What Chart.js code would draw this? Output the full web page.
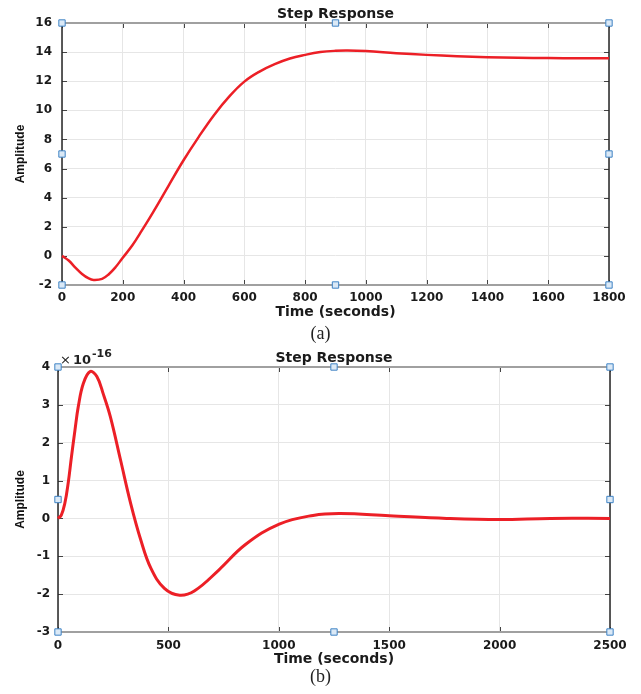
<!DOCTYPE html>
<html>
<head>
<meta charset="utf-8">
<script src="https://cdn.jsdelivr.net/npm/chart.js@4"></script>
<style>
body { margin: 0; background: #fff; }
#wrap { position: relative; width: 641px; height: 694px; }
canvas { position: absolute; left: 0; }
.cap { position: absolute; left: 0; width: 641px; text-align: center; font-family: 'Liberation Serif', 'DejaVu Serif', serif; font-size: 18px; color: #222; }
</style>
</head>
<body>
<div id="wrap">
  <canvas id="chartA" width="641" height="325" style="top:0"></canvas>
  <div class="cap" style="top:323px">(a)</div>
  <canvas id="chartB" width="641" height="328" style="top:340px"></canvas>
  <div class="cap" style="top:666px">(b)</div>
</div>
<script>
// (a) step response
const timeA = [0, 22, 44, 66, 88, 104, 132, 154, 176, 198, 231, 263, 300, 350, 400, 450, 500, 550, 600, 650, 700, 750, 800, 850, 900, 940, 1000, 1100, 1200, 1300, 1400, 1500, 1600, 1700, 1800];
const ampA = [0, -0.32, -0.8, -1.24, -1.55, -1.65, -1.58, -1.26, -0.78, -0.18, 0.71, 1.75, 3.01, 4.8, 6.57, 8.18, 9.67, 10.94, 11.97, 12.66, 13.17, 13.56, 13.81, 14.0, 14.09, 14.11, 14.07, 13.93, 13.81, 13.72, 13.65, 13.61, 13.59, 13.58, 13.58];
const xTicksA = [0, 200, 400, 600, 800, 1000, 1200, 1400, 1600, 1800];
const yTicksA = [-2, 0, 2, 4, 6, 8, 10, 12, 14, 16];
// selection handles around the axes
const handleXA = [0, 900, 1800, 0, 1800, 0, 900, 1800];
const handleYA = [16, 16, 16, 7, 7, -2, -2, -2];

// (b) step response, amplitude in units of 1e-16
const timeB = [0, 15, 31, 46, 61, 77, 92, 115, 145, 176, 206, 237, 283, 329, 375, 421, 482, 551, 619, 727, 849, 1002, 1155, 1278, 1500, 1760, 2000, 2230, 2500];
const ampB = [0, 0.09, 0.40, 0.93, 1.63, 2.34, 2.96, 3.57, 3.88, 3.75, 3.27, 2.69, 1.55, 0.40, -0.57, -1.32, -1.85, -2.03, -1.91, -1.37, -0.69, -0.15, 0.08, 0.13, 0.07, 0, -0.03, 0, 0];
const xTicksB = [0, 500, 1000, 1500, 2000, 2500];
const yTicksB = [-3, -2, -1, 0, 1, 2, 3, 4];
const handleXB = [0, 1250, 2500, 0, 2500, 0, 1250, 2500];
const handleYB = [4, 4, 4, 0.5, 0.5, -3, -3, -3];

const tickFont = { family: 'DejaVu Sans', size: 12, weight: 'bold' };

// matlab style box: inward ticks, grey top/bottom, dark sides
const boxPlugin = {
  id: 'box',
  beforeDatasetsDraw(chart) {
    const { ctx, chartArea: a, scales: { x, y } } = chart;
    ctx.save();
    ctx.strokeStyle = '#444';
    ctx.lineWidth = 1;
    ctx.beginPath();
    x.ticks.forEach(t => {
      const px = Math.round(x.getPixelForValue(t.value)) + 0.5;
      ctx.moveTo(px, a.top); ctx.lineTo(px, a.top + 5);
      ctx.moveTo(px, a.bottom); ctx.lineTo(px, a.bottom - 5);
    });
    y.ticks.forEach(t => {
      const py = Math.round(y.getPixelForValue(t.value)) + 0.5;
      ctx.moveTo(a.left, py); ctx.lineTo(a.left + 5, py);
      ctx.moveTo(a.right, py); ctx.lineTo(a.right - 5, py);
    });
    ctx.stroke();
    ctx.strokeStyle = '#a0a0a0';
    ctx.lineWidth = 2;
    ctx.beginPath();
    ctx.moveTo(a.left, a.top); ctx.lineTo(a.right, a.top);
    ctx.moveTo(a.left, a.bottom); ctx.lineTo(a.right, a.bottom);
    ctx.stroke();
    ctx.strokeStyle = '#262626';
    ctx.lineWidth = 1.5;
    ctx.beginPath();
    ctx.moveTo(a.left, a.top); ctx.lineTo(a.left, a.bottom);
    ctx.moveTo(a.right, a.top); ctx.lineTo(a.right, a.bottom);
    ctx.stroke();
    ctx.restore();
  }
};

const exponentPlugin = {
  id: 'exponent',
  afterDraw(chart) {
    const { ctx, chartArea: a } = chart;
    ctx.save();
    ctx.fillStyle = '#222';
    ctx.textBaseline = 'alphabetic';
    ctx.font = '13px "DejaVu Sans"';
    ctx.fillText('×', a.left + 2, a.top - 3);
    ctx.font = 'bold 13px "DejaVu Sans"';
    ctx.fillText('10', a.left + 15, a.top - 3);
    ctx.font = 'bold 11px "DejaVu Sans"';
    ctx.fillText('-16', a.left + 34, a.top - 10);
    ctx.restore();
  }
};

function stepChart(id, time, amp, hx, hy, xt, yt, o) {
  return new Chart(document.getElementById(id), {
    type: 'line',
    data: {
      datasets: [{
        type: 'scatter',
        data: hx.map((v, i) => ({ x: v, y: hy[i] })),
        pointStyle: 'rect',
        pointRadius: 4.5,
        pointBackgroundColor: '#dbe9f6',
        pointBorderColor: '#3f83c4',
        pointBorderWidth: 1,
        clip: false
      }, {
        data: time.map((t, i) => ({ x: t, y: amp[i] })),
        borderColor: '#ec1f26',
        borderWidth: o.lw,
        pointRadius: 0,
        tension: 0.4,
        clip: false
      }]
    },
    options: {
      responsive: false,
      animation: false,
      devicePixelRatio: 1,
      layout: { padding: { left: 0, right: 641 - o.right, top: 0, bottom: 0 } },
      plugins: {
        legend: { display: false },
        tooltip: { enabled: false },
        title: {
          display: true,
          fullSize: false,
          text: 'Step Response',
          color: '#1a1a1a',
          font: { family: 'DejaVu Sans', size: 14, weight: 'bold' },
          padding: { top: o.titleTop, bottom: o.titleBottom }
        }
      },
      scales: {
        x: {
          type: 'linear',
          min: xt[0],
          max: xt[xt.length - 1],
          afterBuildTicks: s => { s.ticks = xt.map(v => ({ value: v })); },
          afterFit: s => { s.height = o.xh; },
          ticks: { font: tickFont, color: '#1a1a1a', padding: o.xpad, maxRotation: 0, callback: v => String(v) },
          grid: { color: '#e6e6e6', drawTicks: false },
          border: { display: false },
          title: {
            display: true,
            text: 'Time (seconds)',
            color: '#1a1a1a',
            font: { family: 'DejaVu Sans', size: 14, weight: 'bold' },
            padding: { top: 0, bottom: o.xtitlePad }
          }
        },
        y: {
          min: yt[0],
          max: yt[yt.length - 1],
          afterBuildTicks: s => { s.ticks = yt.map(v => ({ value: v })); },
          afterFit: s => { s.width = o.left; },
          ticks: { font: tickFont, color: '#1a1a1a', padding: o.ypad, callback: v => String(v) },
          grid: { color: '#e6e6e6', drawTicks: false },
          border: { display: false },
          title: {
            display: true,
            text: 'Amplitude',
            color: '#111',
            font: { family: 'Liberation Sans', size: 12, weight: 'bold' },
            padding: { top: 13, bottom: 0 }
          }
        }
      }
    },
    plugins: o.extra ? [boxPlugin, o.extra] : [boxPlugin]
  });
}

stepChart('chartA', timeA, ampA, handleXA, handleYA, xTicksA, yTicksA,
  { left: 62, right: 609, xh: 40, xpad: 6, xtitlePad: 4.6, ypad: 10, titleTop: 5.6, titleBottom: 0.6, lw: 2.5 });

stepChart('chartB', timeB, ampB, handleXB, handleYB, xTicksB, yTicksB,
  { left: 58, right: 610, xh: 36, xpad: 7, xtitlePad: 0.6, ypad: 8, titleTop: 9.6, titleBottom: 0.6, lw: 3, extra: exponentPlugin });
</script>
</body>
</html>
